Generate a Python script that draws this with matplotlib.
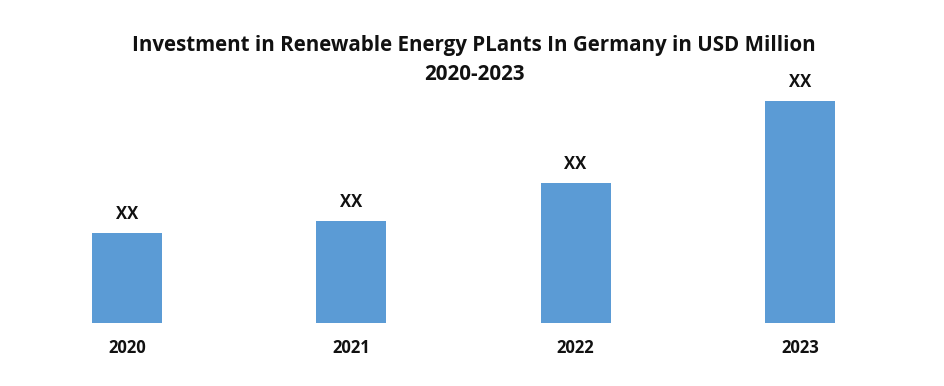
import matplotlib
matplotlib.use("Agg")
import matplotlib.pyplot as plt

years = ["2020", "2021", "2022", "2023"]
values = [89.7, 101.7, 139.7, 222.0]
labels = ["XX", "XX", "XX", "XX"]
title_lines = ["Investment in Renewable Energy PLants In Germany in USD Million", "2020-2023"]

plt.rcParams['font.family'] = ['Open Sans', 'DejaVu Sans']

fig = plt.figure(figsize=(9.44, 3.86), dpi=100)
ax = fig.add_axes([15/944, (386-322.7)/386, (912-15)/944, (322.7-90)/386])
x = range(len(years))
bars = ax.bar(x, values, width=0.312, color="#5B9BD5")
ax.set_xlim(-0.5, 3.5)
ax.set_ylim(0, 232.7)
for b, lab in zip(bars, labels):
    ax.annotate(lab, (b.get_x() + b.get_width()/2, b.get_height()),
                xytext=(0, 7), textcoords="offset points", ha="center", va="bottom",
                fontsize=12, fontweight="bold", color="#111111")
ax.set_xticks(list(x))
ax.set_xticklabels(years, fontsize=12, fontweight="bold", color="#111111")
ax.tick_params(axis="x", length=0, pad=12)
ax.set_yticks([])
for s in ax.spines.values():
    s.set_visible(False)

for line, yp in zip(title_lines, [45, 74]):
    fig.text(474/944, 1 - yp/386, line, ha="center", va="center",
             fontsize=14.8, fontweight="bold", color="#111111")

fig.savefig("out.png", dpi=100)
